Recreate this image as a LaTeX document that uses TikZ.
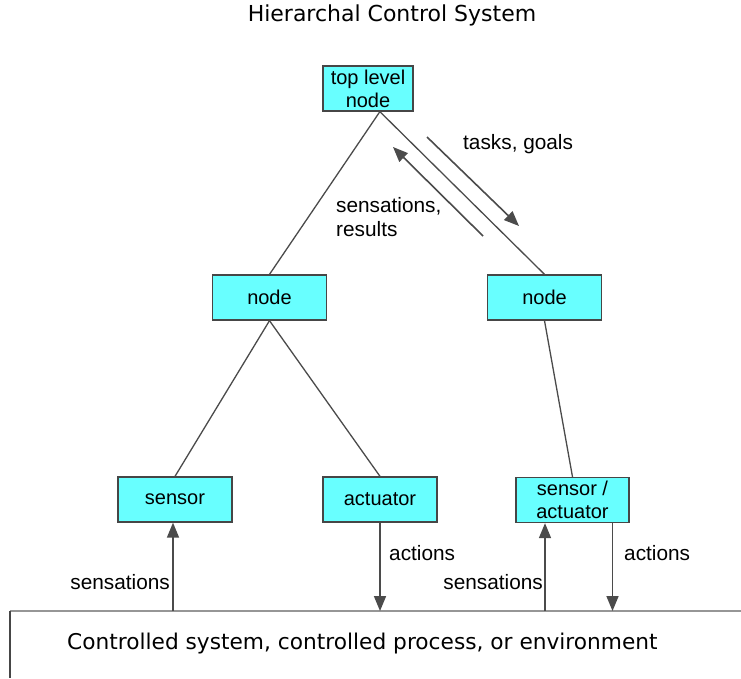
\documentclass[tikz,border=0pt]{standalone}
\usepackage{fontspec}
\setmainfont{Liberation Sans}
\newfontfamily\dejavu{DejaVu Sans}
\usetikzlibrary{arrows.meta,calc}
\definecolor{boxfill}{RGB}{104,255,255}
\definecolor{boxline}{RGB}{70,70,70}
\definecolor{wire}{RGB}{75,75,75}
\definecolor{ground}{RGB}{150,150,150}
\tikzset{
  unit/.style={draw=boxline, line width=1.3pt, fill=boxfill, inner sep=0pt,
    minimum width=114pt, minimum height=45pt, align=center,
    font=\fontsize{20pt}{23pt}\selectfont},
  link/.style={draw=wire, line width=1.3pt},
  flow/.style={draw=wire, line width=1.6pt, -{Triangle[length=15pt,width=12pt]}},
  lbl/.style={inner sep=0pt, font=\fontsize{20.8pt}{24pt}\selectfont, align=left},
}
\begin{document}
\begin{tikzpicture}[x=1pt,y=-1pt]
  \useasboundingbox[fill=white] (0,0) rectangle (741,678);

  % title
  \node[inner sep=0pt, font=\dejavu\fontsize{22pt}{26pt}\selectfont] (title) at (392,15) {Hierarchal Control System};

  % hierarchy of nodes
  \node[unit, minimum width=90pt] (top) at (368,88.5) {top level\\node};
  \node[unit] (nl) at (269.5,297.5) {node};
  \node[unit] (nr) at (544.5,297.5) {node};
  \node[unit] (sen) at (175,499.5) {sensor};
  \node[unit] (act) at (380,499.5) {actuator};
  \node[unit, minimum width=113pt] (sa) at (572.5,500) {sensor /\\actuator};

  % tree links
  \coordinate (topfoot) at ($(top.south west)!0.63!(top.south east)$);
  \draw[link] (topfoot) -- (nl.north);
  \draw[link] (topfoot) -- (nr.north);
  \draw[link] (nl.south) -- (sen.north);
  \draw[link] (nl.south) -- (act.north);
  \draw[link] (nr.south) -- (sa.north);

  % commands down, feedback up
  \coordinate (tg1) at (427,137);
  \coordinate (tg2) at (519,226);
  \coordinate (sr1) at (483,236);
  \coordinate (sr2) at (393,147);
  \draw[flow] (tg1) -- (tg2);
  \draw[flow] (sr1) -- (sr2);
  \node[lbl, anchor=west] (tasks) at (463,144) {tasks, goals};
  \node[lbl, anchor=west] (sensres) at (336,217) {sensations,\\results};

  % controlled environment
  \coordinate (envL) at (10,611);
  \coordinate (envR) at (741,611);
  \coordinate (envB) at (10,678);
  \draw[draw=ground, line width=2.5pt] (envL) -- (envR);
  \draw[draw=boxline, line width=1.3pt] (envL) -- (envB);
  \node[inner sep=0pt, anchor=west, font=\dejavu\fontsize{21.7pt}{26pt}\selectfont] (env) at (67,644)
    {Controlled system, controlled process, or environment};

  % sensing and acting on the environment
  \coordinate (e1) at ($(sen.south)+(-2,0)$);
  \coordinate (e2) at ($(sa.south)+(-27.5,0)$);
  \coordinate (e3) at ($(sa.south)+(40,0)$);
  \draw[flow] (e1 |- envL) -- (e1);
  \draw[flow] (act.south) -- (act.south |- envL);
  \draw[flow] (e2 |- envL) -- (e2);
  \draw[flow] (e3) -- (e3 |- envL);

  \node[lbl, anchor=east] (s1) at (170,582) {sensations};
  \node[lbl, anchor=west] (a1) at (389,553) {actions};
  \node[lbl, anchor=east] (s2) at (543,582) {sensations};
  \node[lbl, anchor=west] (a2) at (624,553) {actions};
\end{tikzpicture}
\end{document}
